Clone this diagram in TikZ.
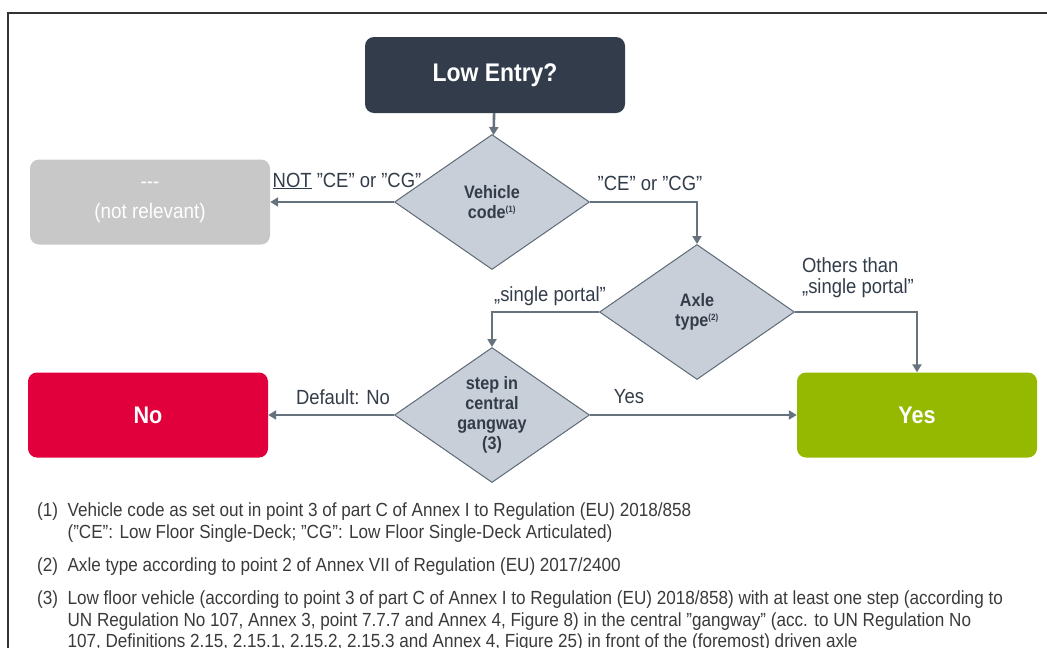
\documentclass[tikz,border=0pt]{standalone}
\usepackage{fontspec}
\setmainfont[FakeStretch=0.9]{Liberation Sans}
\usetikzlibrary{shapes.geometric,arrows.meta}
\definecolor{dark}{HTML}{323C4A}
\definecolor{dia}{HTML}{C9CFD8}
\definecolor{diaedge}{HTML}{5E6A77}
\definecolor{conn}{HTML}{66737F}
\definecolor{nrgray}{HTML}{C8C8C8}
\definecolor{nored}{HTML}{E2003C}
\definecolor{yesgreen}{HTML}{95B800}
\definecolor{txt}{HTML}{333D4A}
\definecolor{foot}{HTML}{3A3A3A}
\begin{document}
\begin{tikzpicture}[x=1pt,y=-1pt,
  box/.style={rectangle,rounded corners=9pt,minimum width=240pt,minimum height=85pt,text=white,font=\fontsize{24}{26}\selectfont\bfseries,inner sep=0pt,align=center},
  dec/.style={diamond,shape aspect=1.45,fill=dia,draw=diaedge,line width=1pt,minimum width=195pt,minimum height=135pt,inner sep=0pt,align=center,text=txt,font=\fontsize{18}{20}\selectfont\bfseries},
  conn/.style={draw=conn,line width=2.6pt,-{Triangle[length=8pt,width=9pt]}},
  lab/.style={text=txt,font=\fontsize{20.5}{21}\selectfont,inner sep=0pt,align=left},
  fn/.style={text=foot,font=\fontsize{19}{21.5}\selectfont,inner sep=0pt,anchor=north west,align=left}]
\useasboundingbox (0,0) rectangle (1047,648);
\clip (0,0) rectangle (1047,648);
\draw[line width=1.6pt,draw=black!80] (8,13) rectangle (1070,680);

\node[box,fill=dark,minimum width=260pt,minimum height=76pt,font=\fontsize{25.5}{28}\selectfont\bfseries] (start) at (495,75) {Low Entry?};
\node[dec] (veh) at (492,202) {Vehicle\\code\textsuperscript{\fontsize{9}{9}\selectfont(1)}};
\node[box,fill=nrgray,font=\fontsize{21}{30}\selectfont] (nr) at (150,202) {{-}{-}{-}\\(not relevant)};
\node[dec] (axle) at (697,312) {Axle\\type\textsuperscript{\fontsize{9}{9}\selectfont(2)}};
\node[dec] (step) at (492,415) {step in\\central\\gangway\\(3)};
\node[box,fill=nored] (no) at (148,415) {No};
\node[box,fill=yesgreen] (yes) at (917,415) {Yes};

\draw[conn] (start) -- (veh);
\draw[conn] (veh.west) -- (nr.east);
\draw[conn] (veh.east) -| (axle.north);
\draw[conn] (axle.west) -| (step.north);
\draw[conn] (axle.east) -| (yes.north);
\draw[conn] (step.west) -- (no.east);
\draw[conn] (step.east) -- (yes.west);

\node[lab] (l1) at (347,181) {\underline{NOT} "CE" or "CG"};
\node[lab] (l2) at (650,183) {"CE" or "CG"};
\node[lab] (l3) at (550,296) {„single portal”};
\node[lab] (l4) at (858,278) {Others than\\„single portal”};
\node[lab] (l5) at (343,397) {Default: No};
\node[lab] (l6) at (629,397) {Yes};

\node[fn] (f1) at (37,503) {(1)\ \ Vehicle code as set out in point 3 of part C of Annex I to Regulation (EU) 2018/858\\\phantom{(1)\ \ }("CE": Low Floor Single-Deck; "CG": Low Floor Single-Deck Articulated)};
\node[fn] (f2) at (37,558) {(2)\ \ Axle type according to point 2 of Annex VII of Regulation (EU) 2017/2400};
\node[fn] (f3) at (37,591) {(3)\ \ Low floor vehicle (according to point 3 of part C of Annex I to Regulation (EU) 2018/858) with at least one step (according to\\\phantom{(3)\ \ }UN Regulation No 107, Annex 3, point 7.7.7 and Annex 4, Figure 8) in the central "gangway" (acc. to UN Regulation No\\\phantom{(3)\ \ }107, Definitions 2.15, 2.15.1, 2.15.2, 2.15.3 and Annex 4, Figure 25) in front of the (foremost) driven axle};
\end{tikzpicture}
\end{document}
